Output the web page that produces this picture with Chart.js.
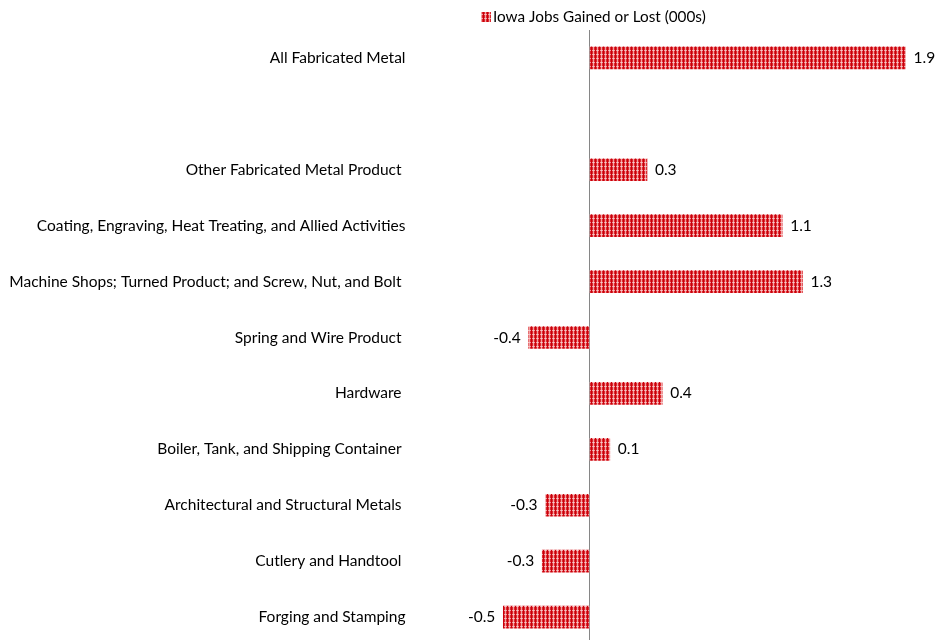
<!DOCTYPE html>
<html>
<head>
<meta charset="utf-8">
<script src="https://cdn.jsdelivr.net/npm/chart.js@4/dist/chart.umd.min.js"></script>
<style>
  html, body { margin: 0; padding: 0; background: #fff; overflow: hidden; }
  #wrap { width: 937px; height: 645px; }
</style>
</head>
<body>
<div id="wrap"><canvas id="jobsChart" width="937" height="645"></canvas></div>
<script>
// ---- data ----
const categories = [
  'All Fabricated Metal',
  '',
  'Other Fabricated Metal Product ',
  'Coating, Engraving, Heat Treating, and Allied Activities',
  'Machine Shops; Turned Product; and Screw, Nut, and Bolt ',
  'Spring and Wire Product ',
  'Hardware ',
  'Boiler, Tank, and Shipping Container ',
  'Architectural and Structural Metals ',
  'Cutlery and Handtool ',
  'Forging and Stamping'
];
const jobsChange = [1.87, null, 0.34, 1.14, 1.26, -0.36, 0.43, 0.12, -0.26, -0.28, -0.51];
const seriesLabel = 'Iowa Jobs Gained or Lost (000s)';

const FONT = 'Lato, "Open Sans", sans-serif';

const ctx = document.getElementById('jobsChart').getContext('2d');

// plaid red fill like the original
function makeHatch() {
  const c = document.createElement('canvas');
  c.width = 4; c.height = 4;
  const g = c.getContext('2d');
  g.fillStyle = '#dc2a2f';
  g.fillRect(0, 0, 4, 4);
  g.fillStyle = '#f0a0a2';
  g.fillRect(1, 0, 1, 4);
  g.fillRect(0, 2, 4, 1);
  g.fillStyle = '#f8c8c8';
  g.fillRect(1, 2, 1, 1);
  g.fillStyle = '#c8000c';
  g.fillRect(3, 0, 1, 4);
  return ctx.createPattern(c, 'repeat');
}
const hatchFill = makeHatch();

// value labels at the bar ends
const valueLabels = {
  id: 'valueLabels',
  afterDatasetsDraw(chart) {
    const c = chart.ctx;
    const meta = chart.getDatasetMeta(0);
    c.save();
    c.font = '15.5px ' + FONT;
    c.fillStyle = '#000';
    c.textBaseline = 'middle';
    meta.data.forEach((bar, i) => {
      const v = jobsChange[i];
      if (v === null) return;
      const txt = v.toFixed(1);
      if (v >= 0) { c.textAlign = 'left'; c.fillText(txt, bar.x + 8, bar.y); }
      else { c.textAlign = 'right'; c.fillText(txt, bar.x - 8, bar.y); }
    });
    c.restore();
  }
};

// legend placed over the zero line like the source
const legendBox = {
  id: 'legendBox',
  afterDraw(chart) {
    const c = chart.ctx;
    c.save();
    c.fillStyle = hatchFill;
    c.fillRect(481, 12, 10, 10);
    c.font = '15.3px ' + FONT;
    c.fillStyle = '#000';
    c.textAlign = 'left';
    c.textBaseline = 'middle';
    c.fillText(seriesLabel, 493, 17);
    c.restore();
  }
};

new Chart(ctx, {
  type: 'bar',
  data: {
    labels: categories,
    datasets: [{ label: seriesLabel, data: jobsChange, backgroundColor: hatchFill, borderWidth: 0, barThickness: 22 }]
  },
  options: {
    indexAxis: 'y',
    responsive: false,
    devicePixelRatio: 1,
    animation: false,
    layout: { padding: { top: 30, right: 9.5, bottom: 0, left: 0 } },
    plugins: { legend: { display: false }, tooltip: { enabled: false } },
    scales: {
      x: {
        min: -1, max: 2,
        ticks: { display: false, stepSize: 0.5 },
        border: { display: false },
        grid: { drawTicks: false, lineWidth: 1, color: c => (c.tick && c.tick.value === 0) ? '#868686' : 'rgba(0,0,0,0)' },
        afterFit: s => { s.height = 0; }
      },
      y: {
        grid: { display: false, drawTicks: false },
        border: { display: false },
        ticks: { autoSkip: false, padding: 15, color: '#000', font: { family: FONT, size: 15.5 } },
        afterFit: s => { s.width = 420.5; s.paddingTop = 0; s.paddingBottom = 0; }
      }
    }
  },
  plugins: [valueLabels, legendBox]
});
</script>
</body>
</html>
